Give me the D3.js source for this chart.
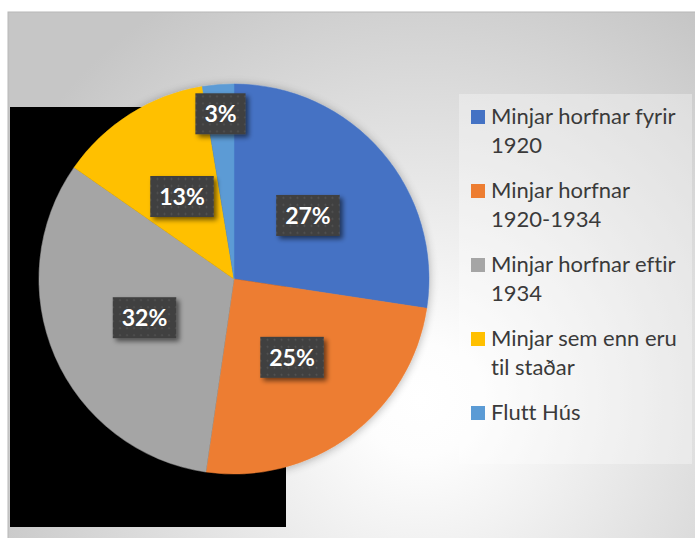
<!DOCTYPE html>
<html lang="is">
<head>
    <meta charset="UTF-8">
    <title>Minjar</title>
    <script src="https://cdn.jsdelivr.net/npm/d3@7"></script>
    <style>
        body { margin: 0; background: #fff; }
        svg { display: block; }
        text { font-family: Lato, "Open Sans", sans-serif; font-variant-ligatures: none; }
    </style>
</head>
<body>
<svg></svg>
<script>
    // DATA
    const categories = [
        "Minjar horfnar fyrir 1920",
        "Minjar horfnar 1920-1934",
        "Minjar horfnar eftir 1934",
        "Minjar sem enn eru til staðar",
        "Flutt Hús"
    ];
    const shares = [27.4, 24.9, 32.4, 12.7, 2.6];
    const colors = ["#4472C4", "#ED7D31", "#A5A5A5", "#FFC000", "#5B9BD5"];

    // dimensions
    const dim = {width: 695, height: 538};
    const pieBox = {cx: 234, cy: 279, r: 195};
    const legendBox = {x: 459, y: 94, width: 233, height: 370};

    const svg = d3.select("svg")
        .attr("width", dim.width)
        .attr("height", dim.height);

    const defs = svg.append("defs");

    // background gradient
    const grad = defs.append("radialGradient")
        .attr("id", "bg")
        .attr("gradientUnits", "userSpaceOnUse")
        .attr("cx", 420).attr("cy", 400).attr("r", 470);
    grad.append("stop").attr("offset", 0).attr("stop-color", "#ffffff");
    grad.append("stop").attr("offset", 0.12).attr("stop-color", "#fdfdfd");
    grad.append("stop").attr("offset", 1).attr("stop-color", "#c6c6c6");

    // shadow behind the pie
    const pieShadow = defs.append("filter").attr("id", "pieShadow")
        .attr("x", "-20%").attr("y", "-20%").attr("width", "140%").attr("height", "140%");
    pieShadow.append("feGaussianBlur").attr("in", "SourceAlpha").attr("stdDeviation", 5);
    pieShadow.append("feOffset").attr("dx", 0).attr("dy", 1).attr("result", "b");
    pieShadow.append("feComponentTransfer").append("feFuncA").attr("type", "linear").attr("slope", 0.3);
    const m1 = pieShadow.append("feMerge");
    m1.append("feMergeNode");
    m1.append("feMergeNode").attr("in", "SourceGraphic");

    // shadow behind label boxes
    const boxShadow = defs.append("filter").attr("id", "boxShadow")
        .attr("x", "-30%").attr("y", "-30%").attr("width", "160%").attr("height", "160%");
    boxShadow.append("feGaussianBlur").attr("in", "SourceAlpha").attr("stdDeviation", 2.5);
    boxShadow.append("feOffset").attr("dx", 3).attr("dy", 3).attr("result", "b");
    boxShadow.append("feComponentTransfer").append("feFuncA").attr("type", "linear").attr("slope", 0.55);
    const m2 = boxShadow.append("feMerge");
    m2.append("feMergeNode");
    m2.append("feMergeNode").attr("in", "SourceGraphic");

    // dotted fill for label boxes
    const pat = defs.append("pattern")
        .attr("id", "dots")
        .attr("patternUnits", "userSpaceOnUse")
        .attr("width", 7).attr("height", 7);
    pat.append("rect").attr("width", 7).attr("height", 7).attr("fill", "#3f3f3f");
    pat.append("circle").attr("cx", 3.5).attr("cy", 3.5).attr("r", 1).attr("fill", "#565656");

    // FRAME
    svg.append("rect")
        .attr("x", 8).attr("y", 12)
        .attr("width", dim.width).attr("height", dim.height)
        .attr("fill", "url(#bg)")
        .attr("stroke", "#b8b8b8").attr("stroke-width", 1);

    svg.append("rect")
        .attr("x", 10).attr("y", 107)
        .attr("width", 276).attr("height", 420)
        .attr("fill", "#000");

    // PIE
    const pie = d3.pie().sort(null).value(d => d);
    const arcs = pie(shares);
    const arc = d3.arc().innerRadius(0).outerRadius(pieBox.r);

    const g = svg.append("g")
        .attr("transform", `translate(${pieBox.cx},${pieBox.cy})`);

    g.append("g")
        .attr("filter", "url(#pieShadow)")
        .selectAll("path")
        .data(arcs)
        .join("path")
            .attr("d", arc)
            .attr("fill", (d, i) => colors[i])
            .attr("stroke", (d, i) => colors[i])
            .attr("stroke-width", 0.5);

    // data labels
    const total = d3.sum(shares);
    const labelArc = d => {
        const rr = (d.endAngle - d.startAngle) < 0.2 ? pieBox.r * 0.85 : pieBox.r * 0.5;
        return d3.arc().innerRadius(rr).outerRadius(rr).centroid(d);
    };

    const labels = g.selectAll("g.label")
        .data(arcs)
        .join("g")
            .attr("class", "label")
            .attr("transform", d => `translate(${labelArc(d)})`);

    labels.append("rect").attr("class", "box");
    labels.append("text")
        .attr("text-anchor", "middle")
        .attr("dy", "0.36em")
        .attr("fill", "#fff")
        .attr("font-size", 23)
        .attr("font-weight", 700)
        .text(d => Math.round(d.value / total * 100) + "%");

    labels.each(function() {
        const sel = d3.select(this);
        const w = sel.select("text").node().getComputedTextLength();
        sel.select("rect")
            .attr("x", -w / 2 - 9).attr("y", -20.5)
            .attr("width", w + 18).attr("height", 41)
            .attr("fill", "url(#dots)")
            .attr("filter", "url(#boxShadow)");
    });

    // LEGEND
    svg.append("rect")
        .attr("x", legendBox.x).attr("y", legendBox.y)
        .attr("width", legendBox.width).attr("height", legendBox.height)
        .attr("fill", "#ffffff").attr("fill-opacity", 0.32);

    const legend = svg.append("g")
        .attr("transform", `translate(${legendBox.x + 12},${legendBox.y + 30})`);

    const items = legend.selectAll("g")
        .data(categories)
        .join("g")
            .attr("transform", (d, i) => `translate(0,${i * 74})`);

    items.append("rect")
        .attr("x", 0).attr("y", -14)
        .attr("width", 14).attr("height", 14)
        .attr("fill", (d, i) => colors[i]);

    const maxW = legendBox.width - 32;
    items.append("text")
        .attr("x", 20)
        .attr("fill", "#3a3a3a")
        .attr("font-size", 22)
        .each(function(d) {
            const t = d3.select(this);
            const words = d.split(" ");
            let line = [], lineNo = 0;
            let ts = t.append("tspan").attr("x", 20).attr("y", 0);
            for (const w of words) {
                line.push(w);
                ts.text(line.join(" "));
                if (ts.node().getComputedTextLength() > maxW && line.length > 1) {
                    line.pop();
                    ts.text(line.join(" "));
                    line = [w];
                    lineNo++;
                    ts = t.append("tspan").attr("x", 20).attr("y", lineNo * 29).text(w);
                }
            }
        });
</script>
</body>
</html>
